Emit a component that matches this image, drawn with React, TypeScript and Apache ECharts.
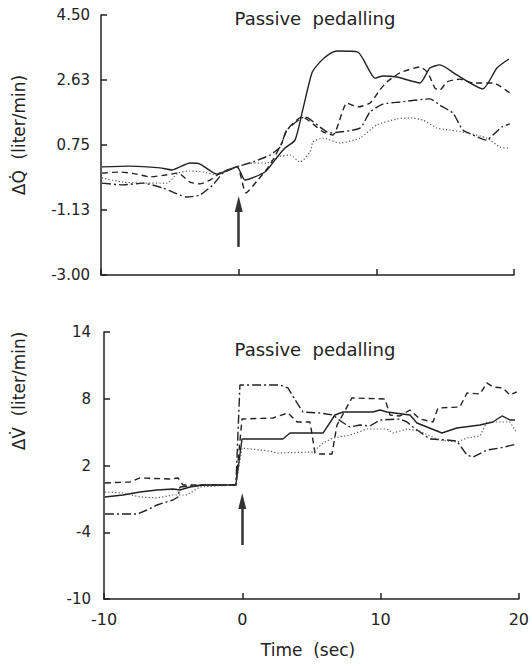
import React, { useEffect, useRef } from "react";
import * as echarts from "echarts";

// ---------- DATA (time in sec, value in liter/min) ----------
const topSolid: number[][] = [
  [-9.93, 0.12], [-7.89, 0.14], [-5.72, 0.09], [-4.84, 0.03], [-3.54, 0.23], [-2.81, 0.2],
  [-1.58, -0.09], [-0.12, 0.12], [0.46, -0.26], [1.91, -0.03], [2.64, 0.32], [3.36, 0.66],
  [4.09, 0.89], [4.67, 1.79], [5.32, 2.83], [5.9, 3.14], [6.5, 3.35], [7.14, 3.46], [8.66, 3.43],
  [9.9, 2.68], [10.48, 2.74], [11.5, 2.71], [13.17, 2.54], [13.89, 2.97], [14.62, 3.06],
  [15.85, 2.77], [17.74, 2.37], [18.76, 2.97], [19.63, 3.23],
];
const topDashed: number[][] = [
  [-9.93, -0.06], [-8.62, -0.03], [-7.39, -0.09], [-6.44, -0.17], [-5.21, -0.11], [-4.41, -0.06],
  [-3.54, -0.32], [-2.81, -0.37], [-2.08, -0.26], [-1.36, -0.06], [-0.12, 0.12], [0.53, -0.63],
  [1.33, -0.29], [2.06, 0.06], [2.49, 0.32], [3.14, 0.81], [3.5, 1.18], [4.6, 1.56], [6.12, 1.13],
  [6.85, 1.04], [7.87, 1.96], [8.66, 1.85], [9.54, 1.96], [10.26, 2.34], [10.77, 2.57],
  [11.71, 2.83], [13.17, 3.0], [13.75, 2.83], [14.26, 2.39], [14.62, 2.34], [15.13, 2.57],
  [16.07, 2.65], [17.02, 2.54], [18.47, 2.54], [19.7, 2.25],
];
const topDashDot: number[][] = [
  [-9.93, -0.35], [-8.4, -0.4], [-6.95, -0.35], [-5.5, -0.49], [-3.75, -0.75], [-2.81, -0.69],
  [-1.87, -0.4], [-1.14, -0.06], [-0.12, 0.12], [1.04, 0.26], [2.27, 0.46], [3.0, 0.69],
  [3.51, 1.18], [4.81, 1.56], [6.63, 1.1], [8.81, 1.24], [9.54, 1.7], [10.48, 1.93], [11.71, 1.99],
  [13.89, 2.08], [14.62, 1.9], [15.56, 1.67], [16.29, 1.18], [17.02, 1.04], [18.03, 0.89],
  [18.47, 1.04], [19.12, 1.27], [19.7, 1.36],
];
const topDotted: number[][] = [
  [-9.93, -0.2], [-8.4, -0.32], [-6.95, -0.35], [-5.21, -0.35], [-4.41, -0.06], [-3.54, 0.0],
  [-2.59, -0.03], [-1.58, -0.11], [-0.5, 0.08], [0.31, 0.17], [0.6, 0.23], [2.06, 0.23],
  [2.78, 0.4], [3.73, 0.46], [4.45, 0.26], [5.18, 0.55], [5.4, 0.84], [6.12, 0.95], [7.36, 0.81],
  [8.81, 0.95], [10.04, 1.33], [11.5, 1.5], [12.44, 1.53], [13.38, 1.47], [14.4, 1.24],
  [15.35, 1.18], [16.58, 1.1], [18.03, 0.95], [18.98, 0.69], [19.7, 0.66],
];

const botSolid: number[][] = [
  [-9.93, -0.83], [-8.63, -0.65], [-7.4, -0.38], [-6.17, -0.2], [-5.01, -0.11], [-4.5, -0.2],
  [-3.78, 0.07], [-2.84, 0.25], [-0.46, 0.25], [-0.02, 4.38], [2.94, 4.38], [3.45, 4.92],
  [5.84, 4.92], [6.7, 6.54], [7.28, 6.81], [8.51, 6.81], [9.45, 6.81], [9.96, 6.99], [10.46, 6.81],
  [12.13, 6.54], [12.63, 5.82], [13.36, 5.46], [14.44, 4.92], [15.52, 5.37], [17.19, 5.64],
  [18.13, 5.91], [18.78, 6.45], [19.36, 6.09], [19.72, 6.09],
];
const botDashed: number[][] = [
  [-9.93, 0.43], [-8.12, 0.52], [-7.4, 0.88], [-5.23, 0.79], [-4.65, 0.88], [-4.29, 0.25],
  [-2.84, 0.25], [-0.46, 0.25], [-0.02, 6.18], [2.22, 6.27], [3.3, 6.72], [3.96, 5.91],
  [4.9, 5.91], [5.26, 3.12], [5.4, 3.03], [6.49, 3.03], [6.85, 5.64], [7.93, 8.07], [10.32, 7.98],
  [10.68, 6.54], [11.4, 6.45], [12.13, 6.99], [12.85, 6.18], [13.79, 5.91], [14.15, 7.17],
  [15.74, 7.26], [16.25, 8.52], [17.19, 8.43], [17.69, 9.42], [18.13, 9.06], [18.85, 8.97],
  [19.36, 8.34], [19.86, 8.61],
];
const botDashDot: number[][] = [
  [-9.93, -2.36], [-7.61, -2.36], [-6.89, -2.0], [-6.17, -1.55], [-5.01, -1.1], [-4.65, -0.83],
  [-4.5, 0.07], [-2.84, 0.25], [-0.46, 0.25], [-0.17, 9.24], [2.73, 9.24], [3.3, 8.97],
  [3.96, 7.62], [4.39, 6.81], [5.62, 6.72], [6.56, 6.54], [7.21, 5.91], [7.79, 5.46], [8.51, 5.64],
  [9.23, 5.55], [9.96, 6.09], [11.4, 6.18], [11.91, 5.91], [12.34, 5.46], [13.57, 4.38],
  [14.8, 4.29], [15.52, 4.2], [16.25, 2.94], [16.68, 2.76], [17.69, 3.39], [18.63, 3.57],
  [19.86, 3.93],
];
const botDotted: number[][] = [
  [-9.93, -0.38], [-8.63, -0.47], [-7.4, -0.83], [-6.17, -0.92], [-5.01, -0.65], [-4.0, -0.65],
  [-3.06, 0.07], [-0.46, 0.25], [-0.02, 3.57], [2.0, 3.3], [2.51, 3.12], [5.11, 3.21], [5.84, 4.02],
  [6.56, 4.47], [7.79, 4.74], [9.02, 5.28], [10.46, 5.28], [10.9, 4.92], [11.91, 5.28],
  [12.85, 5.1], [13.57, 4.65], [14.3, 4.29], [15.52, 4.11], [16.25, 4.47], [17.19, 4.65],
  [17.69, 5.91], [18.63, 5.91], [19.36, 5.91], [19.86, 4.92],
];

const topTicks = [-3, -1.125, 0.75, 2.625, 4.5];
const topTickLabels = ["-3.00", "-1.13", "0.75", "2.63", "4.50"];
const botTicks = [-10, -4, 2, 8, 14];
const botTickLabels = ["-10", "-4", "2", "8", "14"];
const timeTicks = [-10, 0, 10, 20];

const topArrow = [[0, -2.19], [0, -0.95]];
const botArrow = [[0, -5.15], [0, -1.2]];

const panelTitle = "Passive  pedalling";
const topYName = "ΔQ̇  (liter/min)";
const botYName = "ΔV̇  (liter/min)";
const xName = "Time  (sec)";

const FONT = "DejaVu Sans";
const INK = "#222";

export default function App() {
  const ref = useRef<HTMLDivElement>(null);
  useEffect(() => {
    if (!ref.current) return;
    const chart = echarts.init(ref.current, null, { renderer: "svg" });
    const axisLine = { show: true, onZero: false, lineStyle: { color: INK, width: 1.5 } };
    const tick = { show: true, inside: true, length: 6, lineStyle: { color: INK, width: 1.5 } };
    const xAxisBase = (gridIndex: number, showLabel: boolean) => ({
      type: "value",
      gridIndex,
      min: -10,
      max: 20,
      interval: 10,
      axisLine,
      axisTick: tick,
      splitLine: { show: false },
      axisLabel: {
        show: showLabel,
        color: INK,
        fontFamily: FONT,
        fontSize: 16,
        margin: 12,
        formatter: (v: number) => String(timeTicks.find((t) => t === v) ?? v),
      },
    });
    const lineSeries = (data: number[][], idx: number, type: any, color: string, width: number, smooth: number) => ({
      type: "line",
      xAxisIndex: idx,
      yAxisIndex: idx,
      data,
      showSymbol: false,
      smooth,
      lineStyle: { color, width, type },
      silent: true,
    });
    const arrow = (coords: number[][]) => ({
      silent: true,
      symbol: ["none", "triangle"],
      symbolSize: [8, 16],
      label: { show: false },
      lineStyle: { color: "#333", width: 2.5, type: "solid" },
      data: [[{ coord: coords[0] }, { coord: coords[1] }]],
    });
    const DASH = [6, 4];
    const DASHDOT = [9, 3, 2, 3];
    const DOT = [1.2, 2.2];
    chart.setOption({
      animation: false,
      backgroundColor: "#fff",
      grid: [
        { left: 101, top: 15, width: 413, height: 260 },
        { left: 104, top: 332, width: 415, height: 267 },
      ],
      xAxis: [xAxisBase(0, false), xAxisBase(1, true)],
      yAxis: [
        {
          type: "value",
          gridIndex: 0,
          min: -3,
          max: 4.5,
          axisLine,
          axisTick: { ...tick, customValues: topTicks },
          splitLine: { show: false },
          axisLabel: {
            customValues: topTicks,
            color: INK,
            fontFamily: FONT,
            fontSize: 15,
            margin: 11,
            formatter: (v: number) => {
              const i = topTicks.findIndex((t) => Math.abs(t - v) < 1e-6);
              return i >= 0 ? topTickLabels[i] : "";
            },
          },
        },
        {
          type: "value",
          gridIndex: 1,
          min: -10,
          max: 14,
          axisLine,
          axisTick: { ...tick, customValues: botTicks },
          splitLine: { show: false },
          axisLabel: {
            customValues: botTicks,
            color: INK,
            fontFamily: FONT,
            fontSize: 15,
            margin: 13,
            formatter: (v: number) => {
              const i = botTicks.findIndex((t) => Math.abs(t - v) < 1e-6);
              return i >= 0 ? botTickLabels[i] : "";
            },
          },
        },
      ],
      series: [
        { ...lineSeries(topSolid, 0, "solid", INK, 1.4, 0.2), markLine: arrow(topArrow) },
        lineSeries(topDashed, 0, DASH, INK, 1.4, 0.2),
        lineSeries(topDashDot, 0, DASHDOT, INK, 1.4, 0.2),
        lineSeries(topDotted, 0, DOT, "#555", 1.2, 0.2),
        { ...lineSeries(botSolid, 1, "solid", INK, 1.4, 0), markLine: arrow(botArrow) },
        lineSeries(botDashed, 1, DASH, INK, 1.4, 0),
        lineSeries(botDashDot, 1, DASHDOT, INK, 1.4, 0),
        lineSeries(botDotted, 1, DOT, "#555", 1.2, 0),
      ],
      graphic: [
        {
          type: "text",
          x: 315,
          y: 18,
          style: { text: panelTitle, fontFamily: FONT, fontSize: 18, fill: INK, align: "center", verticalAlign: "middle" },
        },
        {
          type: "text",
          x: 315,
          y: 349,
          style: { text: panelTitle, fontFamily: FONT, fontSize: 18, fill: INK, align: "center", verticalAlign: "middle" },
        },
        {
          type: "text",
          x: 19,
          y: 135,
          rotation: Math.PI / 2,
          style: { text: topYName, fontFamily: FONT, fontSize: 17, fill: INK, align: "center", verticalAlign: "middle" },
        },
        {
          type: "text",
          x: 19,
          y: 391,
          rotation: Math.PI / 2,
          style: { text: botYName, fontFamily: FONT, fontSize: 17, fill: INK, align: "center", verticalAlign: "middle" },
        },
        {
          type: "text",
          x: 308,
          y: 650,
          style: { text: xName, fontFamily: FONT, fontSize: 17, fill: INK, align: "center", verticalAlign: "middle" },
        },
      ],
    });
    return () => chart.dispose();
  }, []);
  return (
    <div
      ref={ref}
      style={{ position: "fixed", left: 0, top: 0, width: 532, height: 667, background: "#fff" }}
    />
  );
}
